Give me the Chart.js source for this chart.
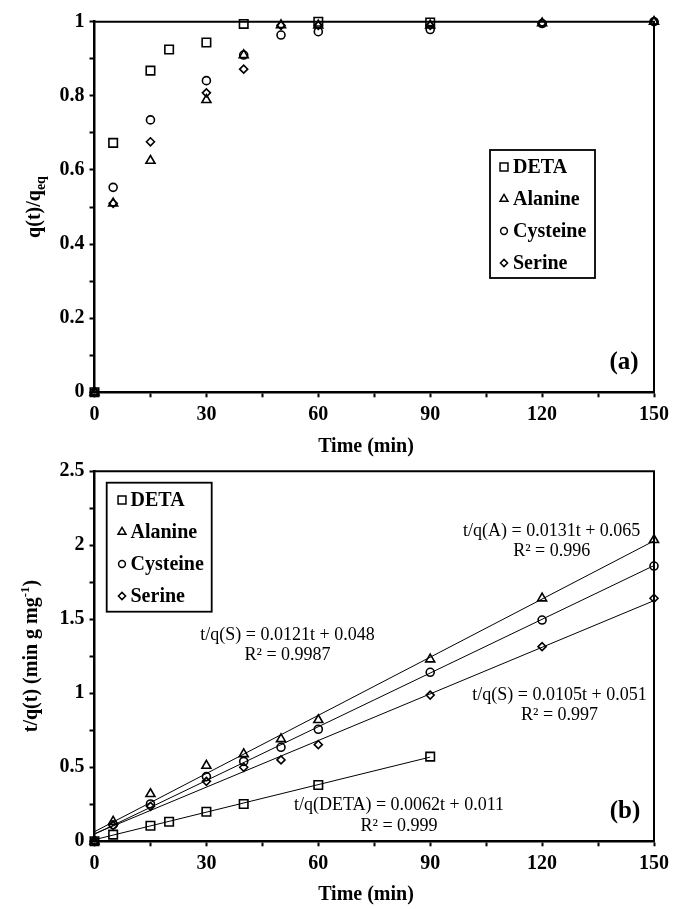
<!DOCTYPE html>
<html><head><meta charset="utf-8">
<script src="https://cdn.jsdelivr.net/npm/chart.js@4/dist/chart.umd.min.js"></script>
<style>
html,body{margin:0;padding:0;background:#fff;}
#wrap{position:relative;width:675px;height:909px;overflow:hidden;background:#fff;}
canvas{position:absolute;left:0;}
#c1{top:0;}
#c2{top:440px;}
</style></head>
<body><div id="wrap"><canvas id="c1" width="675" height="470"></canvas><canvas id="c2" width="675" height="469"></canvas></div>
<script>
// ---------------- data ----------------
const seriesNames = ['DETA', 'Alanine', 'Cysteine', 'Serine'];
const timeDETA = [0, 5, 15, 20, 30, 40, 60, 90];
const timeAmino = [0, 5, 15, 30, 40, 50, 60, 90, 120, 150];

// (a) q(t)/q_eq
const ratioDETA     = [0, 0.673, 0.868, 0.925, 0.944, 0.994, 1.000, 0.998];
const ratioAlanine  = [0, 0.510, 0.625, 0.789, 0.910, 0.991, 0.990, 0.990, 0.996, 1.000];
const ratioCysteine = [0, 0.553, 0.735, 0.841, 0.910, 0.964, 0.973, 0.979, 0.995, 1.000];
const ratioSerine   = [0, 0.510, 0.676, 0.808, 0.872, 0.990, 0.990, 0.990, 0.996, 1.000];

// (b) t/q(t)
const kinDETA     = [0, 0.045, 0.105, 0.132, 0.200, 0.252, 0.380, 0.572];
const kinAlanine  = [0, 0.133, 0.320, 0.511, 0.590, 0.691, 0.820, 1.230, 1.642, 2.036];
const kinCysteine = [0, 0.112, 0.252, 0.437, 0.540, 0.635, 0.757, 1.142, 1.495, 1.860];
const kinSerine   = [0, 0.107, 0.236, 0.405, 0.500, 0.550, 0.653, 0.988, 1.315, 1.642];

// fitted trend lines (end points)
const fitTimeDETA  = [0, 90];
const fitTimeAmino = [0, 150];
const fitDETA      = [0.011, 0.569];
const fitAlanine   = [0.065, 2.030];
const fitCysteine  = [0.048, 1.863];
const fitSerine    = [0.051, 1.626];

const topYTicks = [0, 0.2, 0.4, 0.6, 0.8, 1];
const botYTicks = [0, 0.5, 1, 1.5, 2, 2.5];
const xTickLabels = [0, 30, 60, 90, 120, 150];

const annotations = [
  ['t/q(A) = 0.0131t + 0.065', 'R\u00B2 = 0.996'],
  ['t/q(S) = 0.0121t + 0.048', 'R\u00B2 = 0.9987'],
  ['t/q(S) = 0.0105t + 0.051', 'R\u00B2 = 0.997'],
  ['t/q(DETA) = 0.0062t + 0.011', 'R\u00B2 = 0.999']
];

// ---------------- helpers ----------------
const SERIF = "'Liberation Serif', 'Times New Roman', serif";
Chart.defaults.font.family = SERIF;
Chart.defaults.color = '#000';
const styles = ['rect', 'triangle', 'circle', 'rectRot'];
const radii = [6, 5.2, 4, 4];

function pts(xs, ys) { return xs.map((x, i) => ({x: x, y: ys[i]})); }

function markerDs(label, xs, ys, idx) {
  return {
    label: label, data: pts(xs, ys), showLine: false,
    pointStyle: styles[idx], pointRadius: radii[idx],
    pointBorderColor: '#000', pointBackgroundColor: 'rgba(0,0,0,0)',
    pointBorderWidth: 1.6, clip: false
  };
}
function lineDs(xs, ys) {
  return {
    label: '', data: pts(xs, ys), showLine: true, pointRadius: 0,
    borderColor: '#000', borderWidth: 1, clip: false, fill: false
  };
}

function drawMarker(ctx, style, x, y, r) {
  ctx.beginPath();
  if (style === 'rect') {
    const s = r * Math.SQRT1_2;
    ctx.rect(x - s, y - s, 2 * s, 2 * s);
  } else if (style === 'triangle') {
    ctx.moveTo(x, y - r);
    ctx.lineTo(x + r * Math.sin(2 * Math.PI / 3), y - r * Math.cos(2 * Math.PI / 3));
    ctx.lineTo(x + r * Math.sin(4 * Math.PI / 3), y - r * Math.cos(4 * Math.PI / 3));
    ctx.closePath();
  } else if (style === 'circle') {
    ctx.arc(x, y, r, 0, Math.PI * 2);
  } else {
    ctx.moveTo(x - r, y); ctx.lineTo(x, y - r); ctx.lineTo(x + r, y); ctx.lineTo(x, y + r);
    ctx.closePath();
  }
  ctx.stroke();
}

function drawLegend(ctx, bx, by, bw, bh, rowY0, rowStep, markerX, textX) {
  ctx.save();
  ctx.strokeStyle = '#000'; ctx.lineWidth = 1.8;
  ctx.strokeRect(bx, by, bw, bh);
  ctx.font = 'bold 20px ' + SERIF;
  ctx.textBaseline = 'middle'; ctx.textAlign = 'left'; ctx.fillStyle = '#000';
  const lr = [5.6, 4.6, 3.4, 3.6];
  seriesNames.forEach((n, i) => {
    const y = rowY0 + i * rowStep;
    ctx.lineWidth = 1.5;
    drawMarker(ctx, styles[i], markerX, y, lr[i]);
    ctx.fillText(n, textX, y + 1);
  });
  ctx.restore();
}

function drawRotated(ctx, x, y, parts) {
  ctx.save();
  ctx.translate(x, y); ctx.rotate(-Math.PI / 2);
  let total = 0;
  parts.forEach(p => { ctx.font = p.font; p.w = ctx.measureText(p.text).width; total += p.w; });
  let cx = -total / 2;
  ctx.textBaseline = 'alphabetic'; ctx.textAlign = 'left'; ctx.fillStyle = '#000';
  parts.forEach(p => { ctx.font = p.font; ctx.fillText(p.text, cx, p.dy); cx += p.w; });
  ctx.restore();
}

function drawFrame(chart) {
  const {ctx, chartArea: a} = chart;
  ctx.save();
  ctx.strokeStyle = '#000'; ctx.lineWidth = 2;
  ctx.beginPath();
  ctx.moveTo(a.left, a.top); ctx.lineTo(a.right, a.top); ctx.lineTo(a.right, a.bottom);
  ctx.stroke();
  ctx.restore();
}

function axisOptions(min, max, step, labels, widthOrHeight, isY) {
  return {
    type: 'linear', min: min, max: max,
    position: isY ? 'left' : 'bottom',
    afterFit: s => { if (isY) s.width = widthOrHeight; else s.height = widthOrHeight; },
    ticks: {
      stepSize: step, autoSkip: false, maxRotation: 0,
      padding: isY ? 5 : 6,
      font: {size: 20, weight: 'bold', family: SERIF}, color: '#000',
      callback: v => {
        const hit = labels.find(l => Math.abs(l - v) < 1e-6);
        return hit === undefined ? '' : String(hit);
      }
    },
    grid: {drawOnChartArea: false, drawTicks: true, tickLength: 5, tickWidth: 2, tickColor: '#000'},
    border: {display: true, color: '#000', width: 2.5}
  };
}

const BOLD = 'bold 20px ' + SERIF;

// ---------------- chart (a) ----------------
const decoA = {
  id: 'decoA',
  beforeDatasetsDraw: drawFrame,
  afterDraw(chart) {
    const ctx = chart.ctx;
    drawLegend(ctx, 490, 150, 105, 128, 167, 32, 504, 513);
    ctx.save();
    ctx.fillStyle = '#000'; ctx.textAlign = 'center'; ctx.textBaseline = 'middle';
    ctx.font = BOLD;
    ctx.fillText('Time (min)', 366, 447);
    ctx.font = 'bold 25px ' + SERIF;
    ctx.fillText('(a)', 624, 363);
    ctx.restore();
    drawRotated(ctx, 33, 207, [
      {text: 'q(t)/q', font: BOLD, dy: 7},
      {text: 'eq', font: 'bold 14px ' + SERIF, dy: 12}
    ]);
  }
};

new Chart(document.getElementById('c1'), {
  type: 'scatter',
  data: {
    datasets: [
      markerDs('DETA', timeDETA, ratioDETA, 0),
      markerDs('Alanine', timeAmino, ratioAlanine, 1),
      markerDs('Cysteine', timeAmino, ratioCysteine, 2),
      markerDs('Serine', timeAmino, ratioSerine, 3)
    ]
  },
  options: {
    responsive: false, animation: false, devicePixelRatio: 1,
    layout: {padding: {top: 21.7, right: 17.7, left: 0, bottom: 0}},
    plugins: {legend: {display: false}, tooltip: {enabled: false}},
    scales: {
      x: axisOptions(0, 150, 15, xTickLabels, 470 - 392.3, false),
      y: axisOptions(0, 1, 0.1, topYTicks, 94.5, true)
    }
  },
  plugins: [decoA]
});

// ---------------- chart (b) ----------------
const OFF = 440;
const decoB = {
  id: 'decoB',
  beforeDatasetsDraw: drawFrame,
  afterDraw(chart) {
    const ctx = chart.ctx;
    drawLegend(ctx, 106.7, 482.7 - OFF, 105, 129, 500 - OFF, 32, 122, 130.5);
    ctx.save();
    ctx.fillStyle = '#000'; ctx.textAlign = 'center'; ctx.textBaseline = 'middle';
    ctx.font = BOLD;
    ctx.fillText('Time (min)', 366, 895 - OFF);
    ctx.font = 'bold 25px ' + SERIF;
    ctx.fillText('(b)', 625, 811.7 - OFF);
    ctx.font = '18px ' + SERIF;
    const pos = [[551.7, 531], [287.5, 635], [559.5, 695], [399, 805.5]];
    annotations.forEach((a, i) => {
      ctx.fillText(a[0], pos[i][0], pos[i][1] - OFF);
      ctx.fillText(a[1], pos[i][0], pos[i][1] + 20.7 - OFF);
    });
    ctx.restore();
    drawRotated(ctx, 30, 656 - OFF, [
      {text: 't/q(t) (min g mg', font: BOLD, dy: 7},
      {text: '-1', font: 'bold 13px ' + SERIF, dy: -1},
      {text: ')', font: BOLD, dy: 7}
    ]);
  }
};

new Chart(document.getElementById('c2'), {
  type: 'scatter',
  data: {
    datasets: [
      lineDs(fitTimeDETA, fitDETA),
      lineDs(fitTimeAmino, fitAlanine),
      lineDs(fitTimeAmino, fitCysteine),
      lineDs(fitTimeAmino, fitSerine),
      markerDs('DETA', timeDETA, kinDETA, 0),
      markerDs('Alanine', timeAmino, kinAlanine, 1),
      markerDs('Cysteine', timeAmino, kinCysteine, 2),
      markerDs('Serine', timeAmino, kinSerine, 3)
    ]
  },
  options: {
    responsive: false, animation: false, devicePixelRatio: 1,
    layout: {padding: {top: 471.3 - OFF, right: 17.7, left: 0, bottom: 0}},
    plugins: {legend: {display: false}, tooltip: {enabled: false}},
    scales: {
      x: axisOptions(0, 150, 15, xTickLabels, 469 - (841.3 - OFF), false),
      y: axisOptions(0, 2.5, 0.25, botYTicks, 94.5, true)
    }
  },
  plugins: [decoB]
});
</script>
</body></html>
